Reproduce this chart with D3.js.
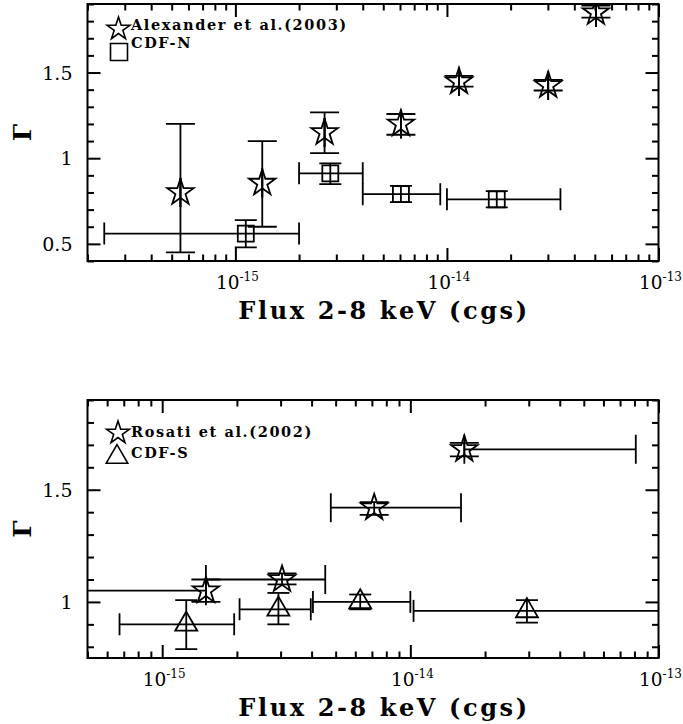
<!DOCTYPE html>
<html>
<head>
<meta charset="utf-8">
<script src="https://cdn.jsdelivr.net/npm/d3@7"></script>
<style>
body { margin: 0; background: #fff; }
</style>
</head>
<body>
<script>
// Top panel: Alexander et al.(2003) stars, CDF-N squares
var alexFlux  = [5.5e-16, 1.34e-15, 2.64e-15, 6.06e-15, 1.14e-14, 3.01e-14, 5.06e-14];
var alexGamma = [0.80, 0.855, 1.15, 1.20, 1.447, 1.425, 1.85];
var alexLo    = [0.45, 0.60, 1.03, 1.137, 1.418, 1.395, 1.82];
var alexHi    = [1.20, 1.10, 1.268, 1.258, 1.481, 1.457, 1.89];

var cdfnFlux   = [1.12e-15, 2.81e-15, 6.06e-15, 1.72e-14];
var cdfnFluxLo = [2.4e-16, 2.0e-15, 4.0e-15, 1.0e-14];
var cdfnFluxHi = [2.0e-15, 4.0e-15, 9.3e-15, 3.44e-14];
var cdfnGamma  = [0.56, 0.912, 0.79, 0.76];
var cdfnLo     = [0.479, 0.849, 0.744, 0.713];
var cdfnHi     = [0.639, 0.97, 0.839, 0.808];

// Bottom panel: Rosati et al.(2002) stars, CDF-S triangles
var rosFlux   = [1.5e-15, 3.04e-15, 7.15e-15, 1.65e-14];
var rosFluxLo = [3.0e-16, 1.5e-15, 4.78e-15, 1.65e-14];
var rosFluxHi = [1.5e-15, 4.54e-15, 1.6e-14, 8.1e-14];
var rosGamma  = [1.05, 1.10, 1.42, 1.68];
var rosLo     = [1.0, 1.078, 1.388, 1.649];
var rosHi     = [1.1, 1.127, 1.445, 1.709];

var cdfsFlux   = [1.25e-15, 2.94e-15, 6.28e-15, 2.95e-14];
var cdfsFluxLo = [6.73e-16, 2.05e-15, 4.05e-15, 1.03e-14];
var cdfsFluxHi = [1.95e-15, 3.97e-15, 1.0e-14, 1.5e-13];
var cdfsGamma  = [0.90, 0.967, 1.0, 0.96];
var cdfsLo     = [0.79, 0.90, 0.967, 0.908];
var cdfsHi     = [1.008, 1.04, 1.033, 1.008];

var xTitle = "Flux 2-8 keV (cgs)";

var svg = d3.select("body")
			.append("svg")
			.attr("width", 683)
			.attr("height", 724);

var serif = "'DejaVu Serif', serif";

function zip(f, fl, fh, g, gl, gh) {
	return f.map(function(v, i) {
		return {x: v, xl: fl[i], xh: fh[i], y: g[i], yl: gl[i], yh: gh[i]};
	});
}

function drawPanel(p) {
	var x = d3.scaleLog().domain(p.xDomain).range([p.left, p.right]);
	var y = d3.scaleLinear().domain(p.yDomain).range([p.bottom, p.top]);
	var g = svg.append("g");

	// ticks on all four sides, pointing inward
	var majX = x.ticks().filter(function(v) { return Math.abs(Math.log10(v) - Math.round(Math.log10(v))) < 1e-6; });
	var minX = x.ticks().filter(function(v) { return majX.indexOf(v) < 0; });
	var yAll = d3.range(Math.ceil(p.yDomain[0] * 10 - 1e-6), Math.floor(p.yDomain[1] * 10 + 1e-6) + 1)
				 .map(function(k) { return +(k / 10).toFixed(1); });
	var majY = yAll.filter(function(v) { return p.yMajor.indexOf(v) >= 0; });
	var minY = yAll.filter(function(v) { return p.yMajor.indexOf(v) < 0; });

	var axes = [
		[d3.axisTop, x, "translate(0," + p.bottom + ")"],
		[d3.axisBottom, x, "translate(0," + p.top + ")"],
		[d3.axisRight, y, "translate(" + p.left + ",0)"],
		[d3.axisLeft, y, "translate(" + p.right + ",0)"]
	];
	axes.forEach(function(a) {
		var isX = a[1] === x;
		[[isX ? majX : majY, 13], [isX ? minX : minY, 6.5]].forEach(function(t) {
			var ax = g.append("g")
				.attr("transform", a[2])
				.call(a[0](a[1]).tickValues(t[0]).tickSize(t[1]).tickFormat(""));
			ax.select(".domain").remove();
			ax.selectAll("line").attr("stroke", "#000").attr("stroke-width", 2);
		});
	});

	g.append("rect")
		.attr("x", p.left).attr("y", p.top)
		.attr("width", p.right - p.left).attr("height", p.bottom - p.top)
		.attr("fill", "none").attr("stroke", "#000").attr("stroke-width", 2);

	// tick labels
	majY.forEach(function(v) {
		g.append("text")
			.attr("x", p.left - 15).attr("y", y(v) + 7)
			.attr("text-anchor", "end")
			.style("font-family", serif).style("font-size", "19px")
			.text(v);
	});
	majX.forEach(function(v) {
		var t = g.append("text")
			.attr("x", x(v) + 2).attr("y", p.bottom + 28)
			.attr("text-anchor", "middle")
			.style("font-family", serif).style("font-size", "18.5px");
		t.append("tspan").text("10");
		t.append("tspan").attr("dy", -8).style("font-size", "12px")
			.text("-" + Math.round(-Math.log10(v)));
	});

	g.append("text")
		.attr("x", 384).attr("y", p.bottom + 58)
		.attr("text-anchor", "middle")
		.style("font-family", serif).style("font-weight", "bold")
		.style("font-size", "24px").style("letter-spacing", "2.6px")
		.text(xTitle);

	g.append("text")
		.attr("transform", "translate(31," + ((p.top + p.bottom) / 2) + ") rotate(-90)")
		.attr("text-anchor", "middle")
		.style("font-family", serif).style("font-weight", "bold").style("font-size", "24px")
		.text("\u0393");

	// data, clipped to the frame
	var clipId = "clip" + p.id;
	svg.append("clipPath").attr("id", clipId)
		.append("rect")
		.attr("x", p.left).attr("y", p.top)
		.attr("width", p.right - p.left).attr("height", p.bottom - p.top);
	var d = g.append("g").attr("clip-path", "url(#" + clipId + ")")
		.attr("stroke", "#000").attr("stroke-width", 1.8).attr("fill", "none");

	p.series.forEach(function(s) {
		var pts = s.data;
		var c = s.cap / 2;
		var lines = [];
		pts.forEach(function(q) {
			var px = x(q.x), py = y(q.y);
			// vertical error bar + caps
			lines.push([px, y(q.yl), px, y(q.yh)]);
			lines.push([px - c, y(q.yl), px + c, y(q.yl)]);
			lines.push([px - c, y(q.yh), px + c, y(q.yh)]);
			// horizontal error bar + caps
			lines.push([x(q.xl), py, x(q.xh), py]);
			lines.push([x(q.xl), py - c, x(q.xl), py + c]);
			lines.push([x(q.xh), py - c, x(q.xh), py + c]);
		});
		d.selectAll(null).data(lines).enter().append("line")
			.attr("x1", function(l) { return l[0]; }).attr("y1", function(l) { return l[1]; })
			.attr("x2", function(l) { return l[2]; }).attr("y2", function(l) { return l[3]; });
		d.selectAll(null).data(pts).enter().append("path")
			.attr("transform", function(q) { return "translate(" + x(q.x) + "," + y(q.y) + ")"; })
			.attr("d", d3.symbol(s.symbol, s.size)());
	});

	// legend
	p.legend.forEach(function(l) {
		g.append("path")
			.attr("transform", "translate(" + l.sx + "," + l.sy + ")")
			.attr("d", d3.symbol(l.symbol, l.size)())
			.attr("fill", "none").attr("stroke", "#000").attr("stroke-width", 1.6);
		g.append("text")
			.attr("x", 131).attr("y", l.ty)
			.style("font-family", serif).style("font-weight", "bold")
			.style("font-size", "14.5px").style("letter-spacing", "1.6px")
			.text(l.label);
	});
}

drawPanel({
	id: 1, left: 87.5, right: 658.5, top: 4, bottom: 261,
	xDomain: [2e-16, 1e-13], yDomain: [0.4, 1.9], yMajor: [0.5, 1, 1.5],
	series: [
		{data: zip(alexFlux, alexFlux, alexFlux, alexGamma, alexLo, alexHi), symbol: d3.symbolStar, size: 215, cap: 29},
		{data: zip(cdfnFlux, cdfnFluxLo, cdfnFluxHi, cdfnGamma, cdfnLo, cdfnHi), symbol: d3.symbolSquare, size: 256, cap: 22}
	],
	legend: [
		{symbol: d3.symbolStar, size: 160, sx: 118.5, sy: 29, ty: 30, label: "Alexander et al.(2003)"},
		{symbol: d3.symbolSquare, size: 289, sx: 119, sy: 52, ty: 48, label: "CDF-N"}
	]
});

drawPanel({
	id: 2, left: 87.5, right: 658.5, top: 400, bottom: 658,
	xDomain: [5e-16, 1e-13], yDomain: [0.75, 1.9], yMajor: [1, 1.5],
	series: [
		{data: zip(rosFlux, rosFluxLo, rosFluxHi, rosGamma, rosLo, rosHi), symbol: d3.symbolStar, size: 215, cap: 29},
		{data: zip(cdfsFlux, cdfsFluxLo, cdfsFluxHi, cdfsGamma, cdfsLo, cdfsHi), symbol: d3.symbolTriangle, size: 210, cap: 22}
	],
	legend: [
		{symbol: d3.symbolStar, size: 160, sx: 118, sy: 433, ty: 437, label: "Rosati et al.(2002)"},
		{symbol: d3.symbolTriangle, size: 200, sx: 117, sy: 457, ty: 458, label: "CDF-S"}
	]
});
</script>
</body>
</html>
